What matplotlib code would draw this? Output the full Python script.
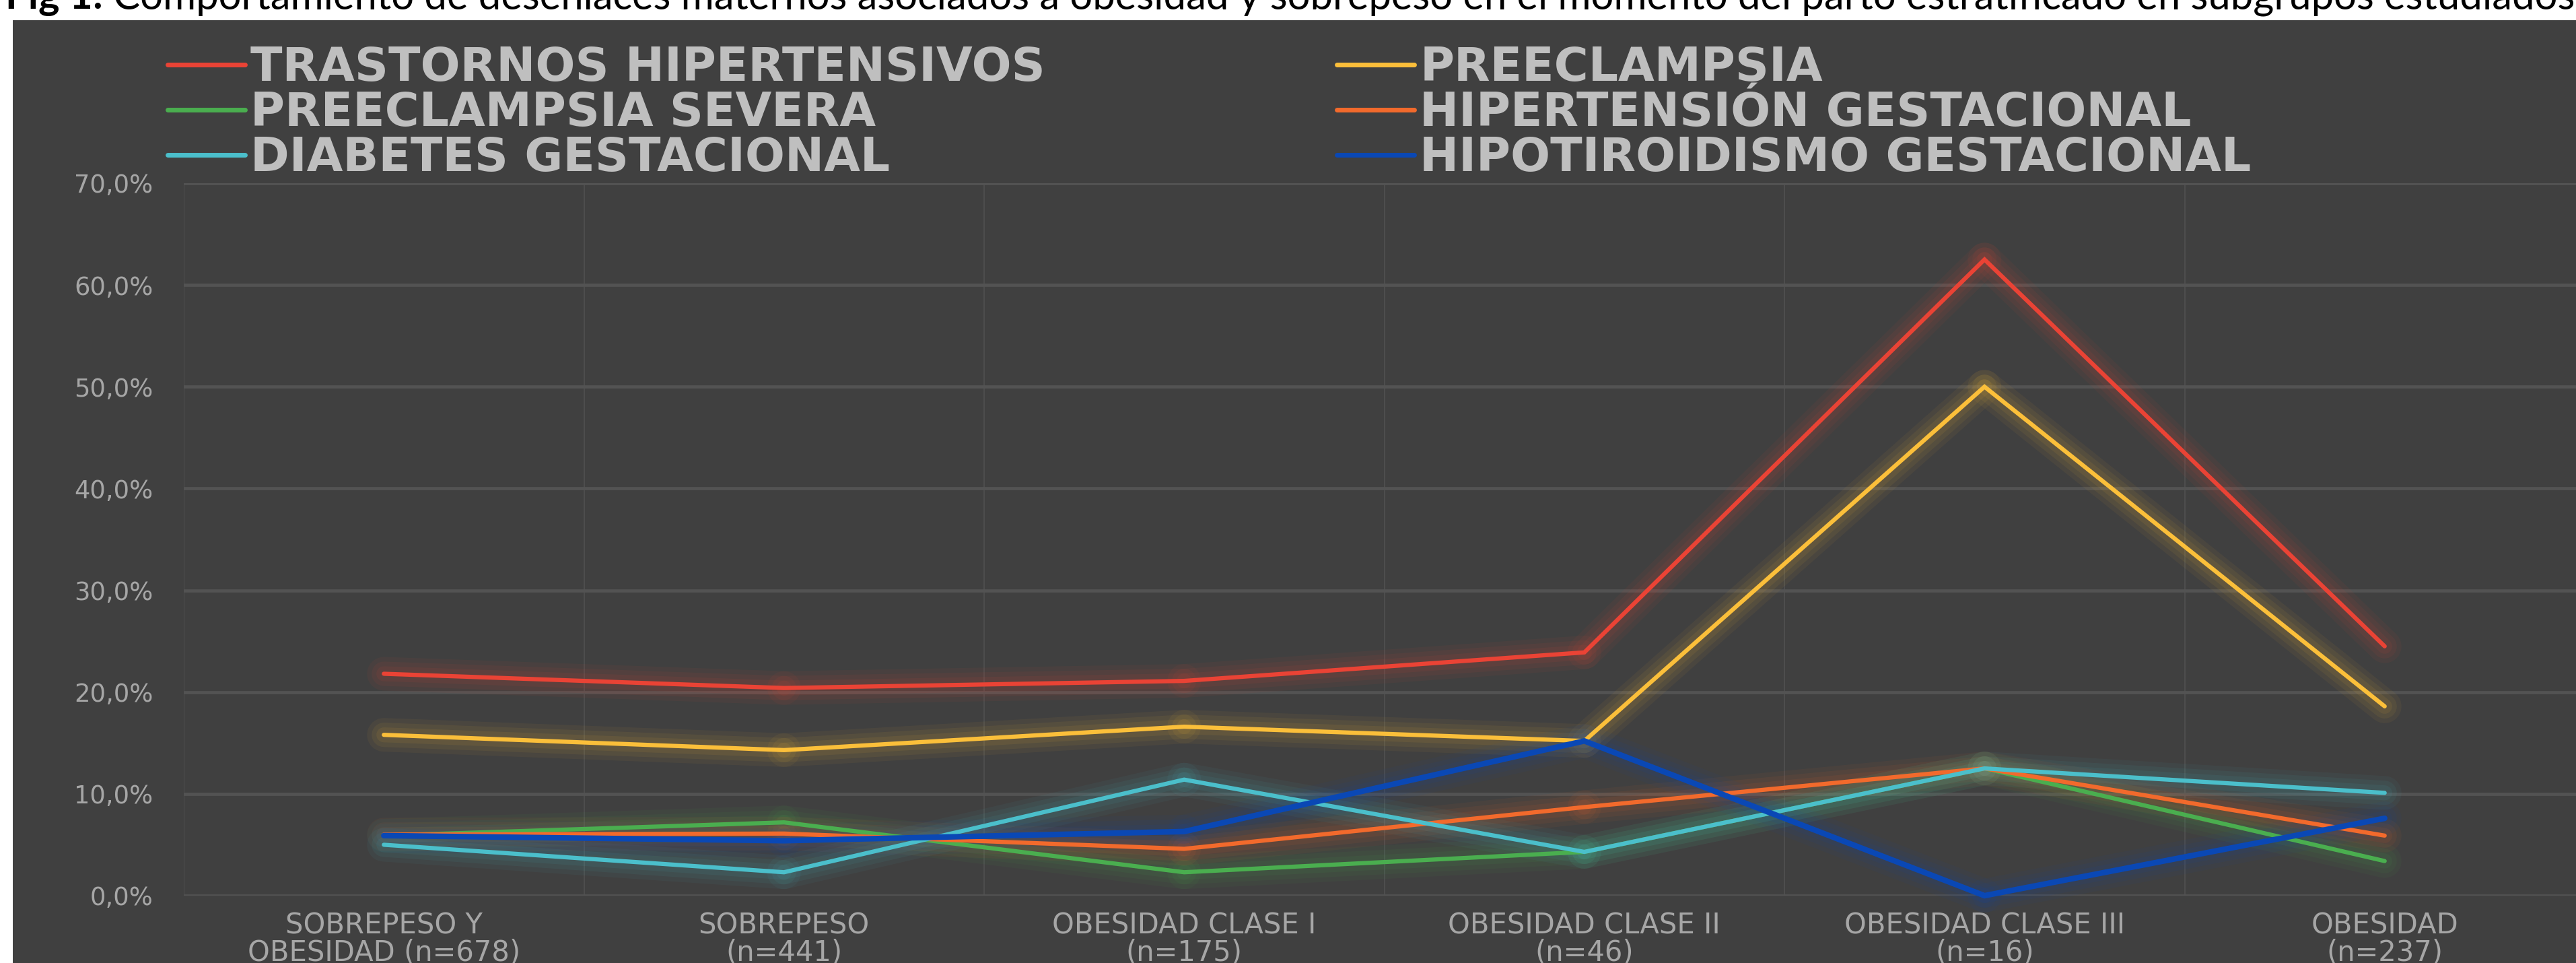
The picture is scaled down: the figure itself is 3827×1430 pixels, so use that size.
import matplotlib
matplotlib.use("Agg")
import matplotlib.pyplot as plt
from matplotlib.lines import Line2D
from matplotlib.patches import Rectangle
from matplotlib.ticker import FuncFormatter
from matplotlib import font_manager
import numpy as np

# ---------------- data ----------------
categories = [
    "SOBREPESO Y\nOBESIDAD (n=678)",
    "SOBREPESO\n(n=441)",
    "OBESIDAD CLASE I\n(n=175)",
    "OBESIDAD CLASE II\n(n=46)",
    "OBESIDAD CLASE III\n(n=16)",
    "OBESIDAD\n(n=237)",
]
series_names = [
    "TRASTORNOS HIPERTENSIVOS",
    "PREECLAMPSIA",
    "PREECLAMPSIA SEVERA",
    "HIPERTENSIÓN GESTACIONAL",
    "DIABETES GESTACIONAL",
    "HIPOTIROIDISMO GESTACIONAL",
]
trastornos = [21.8, 20.4, 21.1, 23.9, 62.5, 24.5]
preeclampsia = [15.8, 14.3, 16.6, 15.2, 50.0, 18.6]
preeclampsia_severa = [5.9, 7.2, 2.3, 4.3, 12.5, 3.4]
hipertension = [6.0, 6.1, 4.6, 8.7, 12.5, 5.9]
diabetes = [5.0, 2.3, 11.4, 4.3, 12.5, 10.1]
hipotiroidismo = [5.9, 5.4, 6.3, 15.2, 0.0, 7.6]
yticks = [0, 10, 20, 30, 40, 50, 60, 70]
title_bold = "Fig 1:"
title_rest = (" Comportamiento de desenlaces maternos asociados a obesidad y sobrepeso "
              "en el momento del parto estratificado en subgrupos estudiados")

# ---------------- style ----------------
colors = ["#EA4335", "#FBBF3A", "#4AAE4F", "#F26A2C", "#4BBFCB", "#0A48B5"]
widths = [4.5, 4.5, 4.5, 4.5, 4.5, 6.0]
values = [trastornos, preeclampsia, preeclampsia_severa, hipertension, diabetes, hipotiroidismo]
BG = "#404040"
W, H = 3827, 1430

fig = plt.figure(figsize=(W / 100, H / 100), dpi=100)
fig.patch.set_facecolor("white")
fig.add_artist(Rectangle((19 / W, 0), 1 - 19 / W, 1 - 30 / H, transform=fig.transFigure,
                         facecolor=BG, edgecolor="none", zorder=0))

ax = fig.add_axes([273 / W, 1 - 1330 / H, 6 * 594.5 / W, (1330 - 272) / H])
ax.set_facecolor(BG)
x = np.arange(len(categories))
ax.set_xlim(-0.5, len(categories) - 0.5)
ax.set_ylim(0, 70)

for vals, c, lw in zip(values, colors, widths):
    v = np.asarray(vals, dtype=float)
    for i in range(len(v) - 1):
        for gw, ga in [(36, 0.055), (26, 0.065), (16, 0.08)]:
            ax.plot(x[i:i + 2], v[i:i + 2], color=c, lw=gw, alpha=ga,
                    solid_capstyle="round", clip_on=False, zorder=2)
    ax.plot(x, v, color=c, lw=lw, solid_capstyle="round", solid_joinstyle="miter",
            clip_on=False, zorder=3)

ax.set_yticks(yticks)
ax.yaxis.set_major_formatter(FuncFormatter(lambda v, p: f"{v:.1f}%".replace(".", ",")))
ax.set_xticks(x)
ax.set_xticklabels(categories)
ax.set_xticks(np.arange(-0.5, len(categories), 1), minor=True)
ax.tick_params(axis="y", length=0, pad=33, labelsize=26.6, labelcolor="#A6A6A6")
ax.tick_params(axis="x", which="both", length=0, pad=17, labelsize=30, labelcolor="#A6A6A6")
for lbl in ax.get_xticklabels():
    lbl.set_linespacing(0.95)
ax.grid(which="major", axis="y", color="#535353", lw=3.4)
ax.grid(which="minor", axis="x", color="#4D4D4D", lw=1.5)
ax.grid(which="major", axis="x", visible=False)
ax.set_axisbelow(True)
for s in ax.spines.values():
    s.set_visible(False)

# ---------------- legend (two columns, row-major order like the original) ----------------
handles = [Line2D([0], [0], color=c, lw=5, solid_capstyle="round") for c in colors]
prop = dict(family="DejaVu Sans", weight="bold", size=50)
for idxs, xpx in [([0, 2, 4], 249), ([1, 3, 5], 1986)]:
    fig.legend([handles[i] for i in idxs], [series_names[i] for i in idxs],
               loc="upper left", bbox_to_anchor=(xpx / W, 1 - 67 / H),
               frameon=False, borderpad=0, borderaxespad=0, handlelength=1.66,
               handletextpad=0.115, labelspacing=0.0, prop=prop, labelcolor="#BFBFBF")

# ---------------- title (cut at the top as in the original) ----------------
avail = {f.name for f in font_manager.fontManager.ttflist}
tfam = next(f for f in ["Liberation Sans Narrow", "Lato", "DejaVu Sans"] if f in avail)
ty = 1 - 13 / H
t1 = fig.text(8 / W, ty, title_bold, fontweight="bold", family=tfam, size=40,
              color="black", va="baseline")
t2 = fig.text(0, ty, title_rest, family=tfam, size=40, color="black", va="baseline")
r = fig.canvas.get_renderer()
w1 = t1.get_window_extent(r).width
w2 = t2.get_window_extent(r).width
scale = (3820 - 8) / (w1 + w2)
t1.set_size(40 * scale)
t2.set_size(40 * scale)
w1 = t1.get_window_extent(r).width
t2.set_x((8 + w1) / W)

fig.savefig("out.png", dpi=100, facecolor="white")
